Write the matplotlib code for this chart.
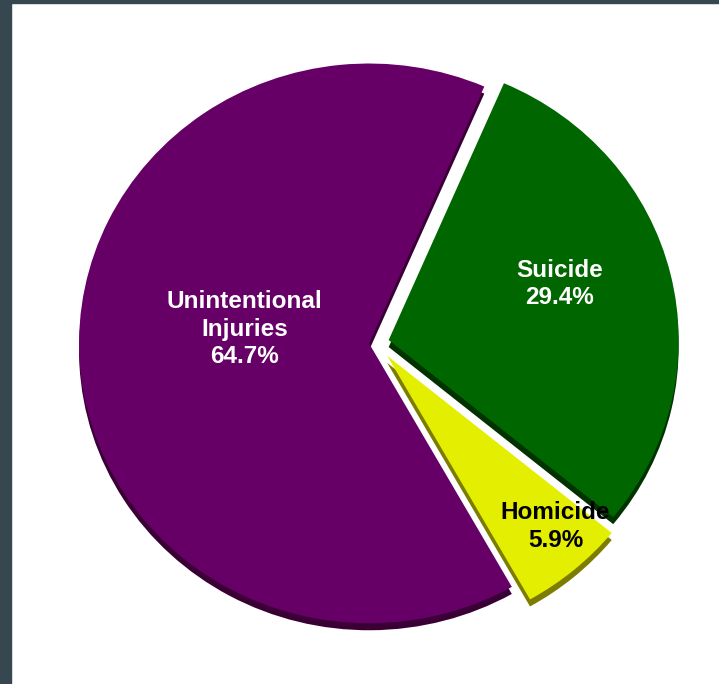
import numpy as np
import matplotlib
matplotlib.use('Agg')
import matplotlib.pyplot as plt
from matplotlib.patches import Rectangle

# causes of injury death
causes = ['Unintentional\nInjuries', 'Suicide', 'Homicide']
shares = [64.7, 29.4, 5.9]
face_colors = ['#660066', '#006600', '#e3ee00']
side_colors = ['#3a0036', '#003300', '#7c7c00']
text_colors = ['white', 'white', 'black']
explode = [0.024, 0.045, 0.06]
# where each label sits, in pie radii from its wedge centre
label_offsets = [(-0.43, 0.05), (0.59, 0.20), (0.58, -0.61)]

W, H = 719, 684
squash = 0.965          # slight tilt, the pie is a bit wider than tall
R = 290
cx, cy = 376, (H - 343) / squash
depth = 7.3             # thickness of the extruded side

plt.rcParams['font.family'] = ['Liberation Sans', 'DejaVu Sans']

fig = plt.figure(figsize=(W / 100, H / 100), dpi=100)
fig.patch.set_facecolor('white')
ax = fig.add_axes([0, 0, 1, 1])

# pie() takes explode in data units
common = dict(explode=[e * R for e in explode], radius=R, startangle=-60.5,
              counterclock=False, frame=True, wedgeprops=dict(linewidth=0))
# dark copy underneath gives the slices some depth
ax.pie(shares, colors=side_colors, center=(cx, cy - depth), **common)
wedges, _ = ax.pie(shares, colors=face_colors, center=(cx, cy), **common)

for w, name, pct, off, tc in zip(wedges, causes, shares, label_offsets, text_colors):
    wx, wy = w.center
    ax.text(wx + off[0] * R, wy + off[1] * R, f'{name}\n{pct}%',
            ha='center', va='center', color=tc, fontsize=17.5,
            fontweight='bold', linespacing=1.25)

ax.set_aspect('auto')
ax.set_xlim(0, W)
ax.set_ylim(0, H / squash)
ax.set_axis_off()

# slate frame on the left and top edges
fig.patches.append(Rectangle((0, 0), 11 / W, 1, transform=fig.transFigure,
                             color='#37474f', zorder=10))
fig.patches.append(Rectangle((0, 1 - 3 / H), 1, 3 / H, transform=fig.transFigure,
                             color='#37474f', zorder=10))

fig.savefig('out.png', dpi=100)
